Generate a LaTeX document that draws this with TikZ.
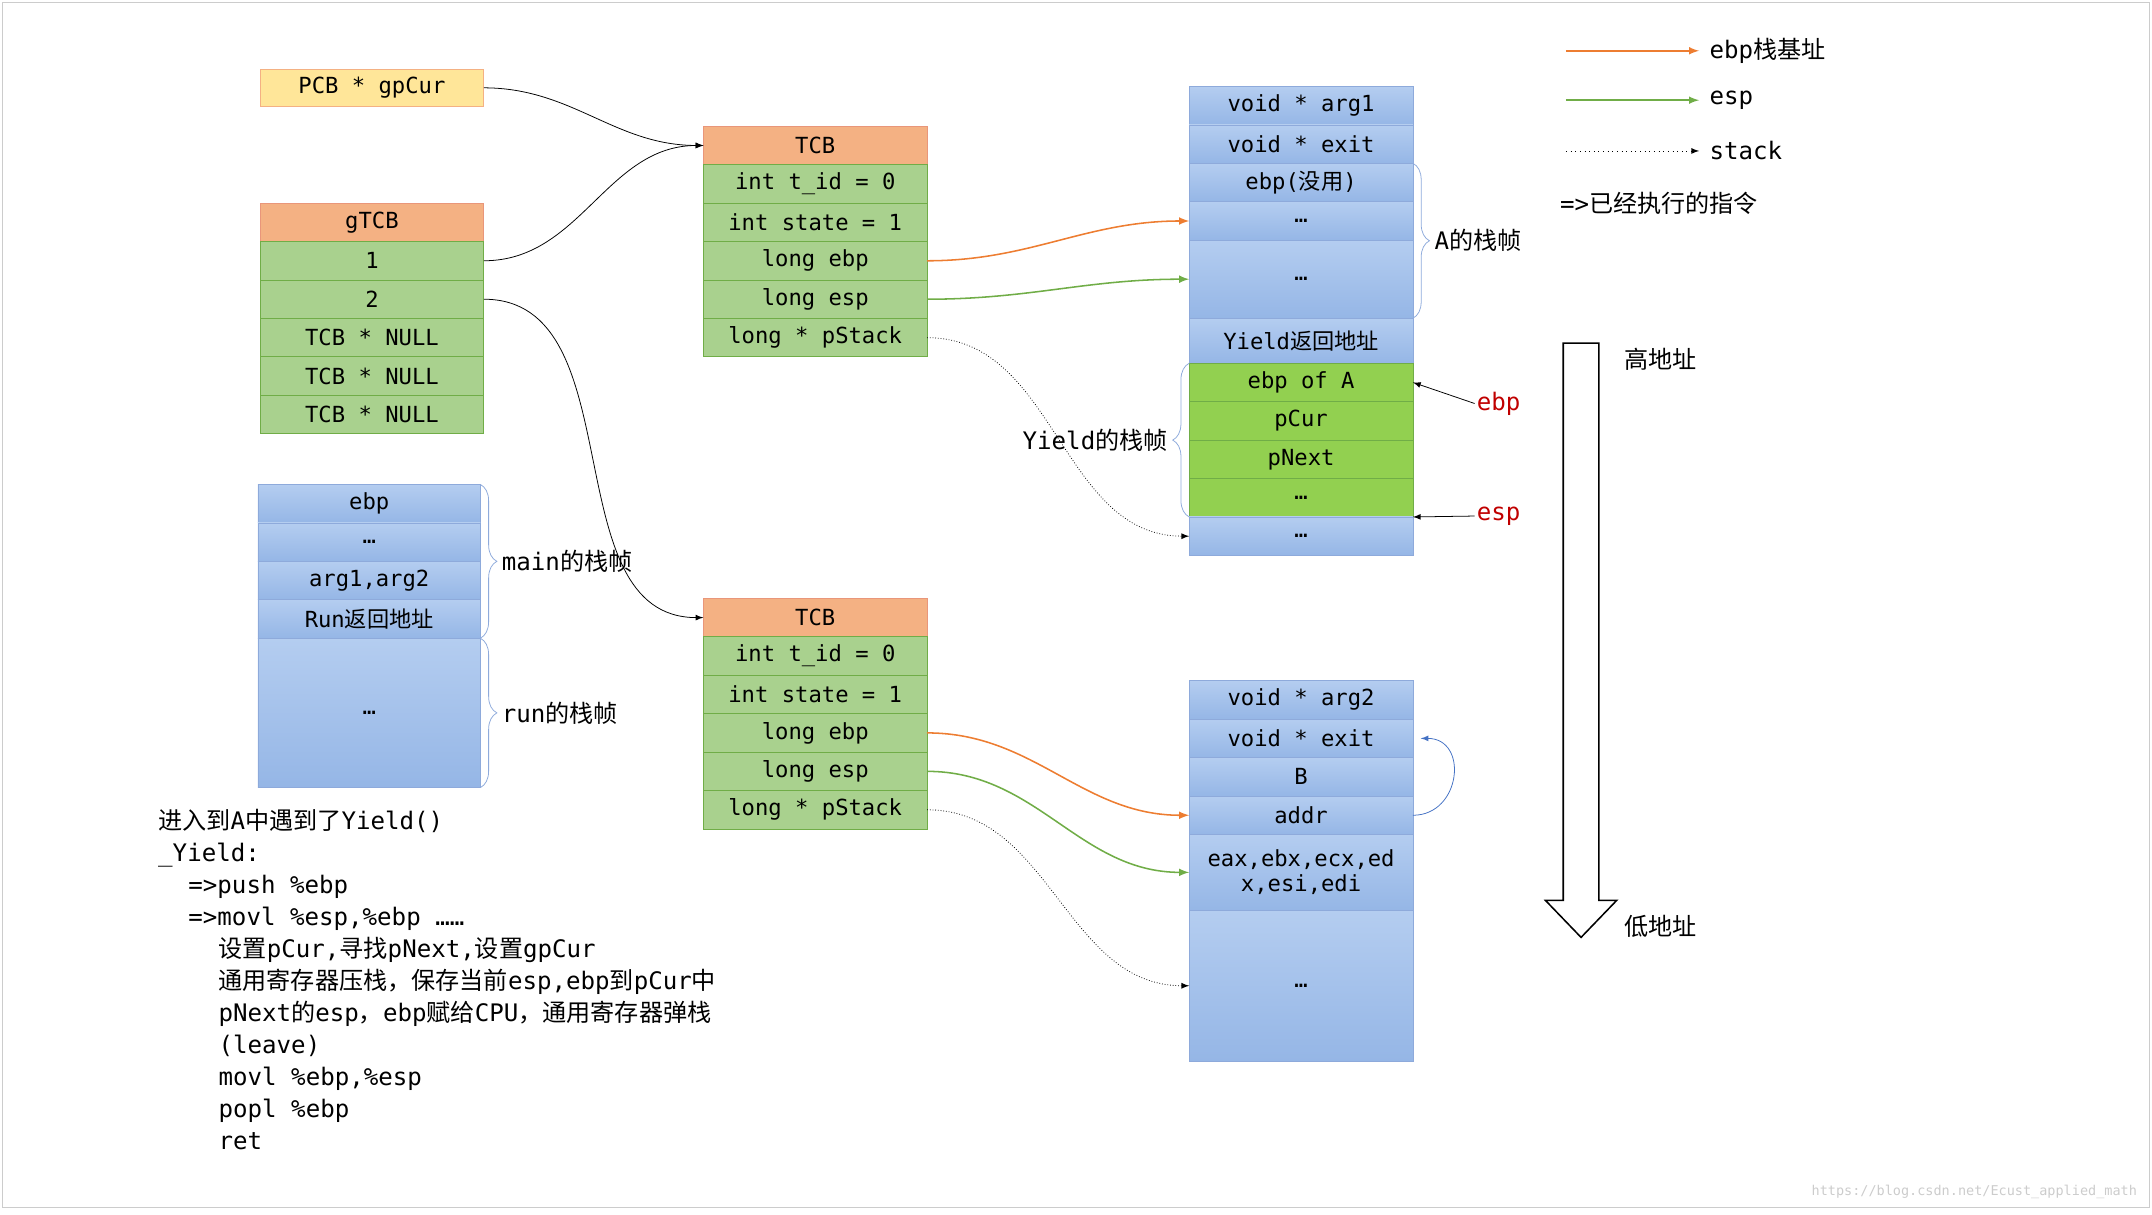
\documentclass[tikz,border=0pt]{standalone}
\usepackage{fontspec}
\setmainfont{DejaVu Sans Mono}
\newfontfamily\cjk{Noto Sans CJK SC}
\usetikzlibrary{positioning,decorations.pathreplacing}
\definecolor{hdrfill}{HTML}{F4B183}
\definecolor{hdrdraw}{HTML}{E9967A}
\definecolor{grnfill}{HTML}{A9D18E}
\definecolor{grndraw}{HTML}{70AD47}
\definecolor{limefill}{HTML}{92D050}
\definecolor{bluetop}{HTML}{B4CDF0}
\definecolor{bluebot}{HTML}{95B6E6}
\definecolor{bluedraw}{HTML}{8EAADB}
\definecolor{yelfill}{HTML}{FFE699}
\definecolor{ebpcol}{HTML}{ED7D31}
\definecolor{espcol}{HTML}{70AD47}
\definecolor{loopcol}{HTML}{4472C4}
\definecolor{regred}{HTML}{C00000}
\tikzset{
  cell/.style={minimum width=4.075cm,minimum height=0.7cm,inner sep=0pt,outer sep=0pt,
    font=\fontsize{11.5}{13}\selectfont},
  hdr/.style={cell,fill=hdrfill,draw=hdrdraw},
  grn/.style={cell,fill=grnfill,draw=grndraw},
  lime/.style={cell,fill=limefill,draw=grndraw},
  blu/.style={cell,top color=bluetop,bottom color=bluebot,draw=bluedraw},
  lbl/.style={font=\fontsize{12.5}{14}\selectfont,inner sep=1pt},
  brc/.style={decorate,decoration={brace,amplitude=0.3cm},draw=bluedraw},
}
\begin{document}
\begin{tikzpicture}[x=0.025cm,y=-0.025cm]
\useasboundingbox (0,0) rectangle (1568,885);
\draw[gray!40] (2,2) rectangle (1566,880);

% left side
\node[cell,fill=yelfill,draw=hdrfill,minimum height=0.68cm] (gp) at (271,64) {PCB * gpCur};

\node[hdr] (g0) at (271,162) {gTCB};
\node[grn] (g1) [below=0pt of g0] {1};
\node[grn] (g2) [below=0pt of g1] {2};
\node[grn] (g3) [below=0pt of g2] {TCB * NULL};
\node[grn] (g4) [below=0pt of g3] {TCB * NULL};
\node[grn] (g5) [below=0pt of g4] {TCB * NULL};

\node[blu,minimum width=4.05cm] (m1) at (269,367) {ebp};
\node[blu,minimum width=4.05cm] (m2) [below=0pt of m1] {…};
\node[blu,minimum width=4.05cm] (m3) [below=0pt of m2] {arg1,arg2};
\node[blu,minimum width=4.05cm] (m4) [below=0pt of m3] {Run{\cjk 返回地址}};
\node[blu,minimum width=4.05cm,minimum height=2.72cm] (m5) [below=0pt of m4] {…};

% thread A
\node[hdr] (ta0) at (594,106) {TCB};
\node[grn] (ta1) [below=0pt of ta0] {int t\_id = 0};
\node[grn] (ta2) [below=0pt of ta1] {int state = 1};
\node[grn] (ta3) [below=0pt of ta2] {long ebp};
\node[grn] (ta4) [below=0pt of ta3] {long esp};
\node[grn] (ta5) [below=0pt of ta4] {long * pStack};

% thread B
\node[hdr] (tb0) at (594,450) {TCB};
\node[grn] (tb1) [below=0pt of tb0] {int t\_id = 0};
\node[grn] (tb2) [below=0pt of tb1] {int state = 1};
\node[grn] (tb3) [below=0pt of tb2] {long ebp};
\node[grn] (tb4) [below=0pt of tb3] {long esp};
\node[grn] (tb5) [below=0pt of tb4] {long * pStack};

% stack A
\node[blu] (sa1) at (948,77) {void * arg1};
\node[blu] (sa2) [below=0pt of sa1] {void * exit};
\node[blu] (sa3) [below=0pt of sa2] {ebp({\cjk 没用})};
\node[blu] (sa4) [below=0pt of sa3] {…};
\node[blu,minimum height=1.42cm] (sa5) [below=0pt of sa4] {…};
\node[blu,minimum height=0.82cm] (sa6) [below=0pt of sa5] {Yield{\cjk 返回地址}};
\node[lime] (sa7) [below=0pt of sa6] {ebp of A};
\node[lime] (sa8) [below=0pt of sa7] {pCur};
\node[lime] (sa9) [below=0pt of sa8] {pNext};
\node[lime] (sa10) [below=0pt of sa9] {…};
\node[blu] (sa11) [below=0pt of sa10] {…};

% stack B
\node[blu] (sb1) at (948,510) {void * arg2};
\node[blu] (sb2) [below=0pt of sb1] {void * exit};
\node[blu] (sb3) [below=0pt of sb2] {B};
\node[blu] (sb4) [below=0pt of sb3] {addr};
\node[blu,minimum height=1.38cm,align=center] (sb5) [below=0pt of sb4] {eax,ebx,ecx,ed\\x,esi,edi};
\node[blu,minimum height=2.75cm] (sb6) [below=0pt of sb5] {…};

% pointers
\draw[-latex] (gp.east) to[out=0,in=180] (ta0.west);
\draw[-latex] (g1.east) to[out=0,in=180] (ta0.west);
\draw[-latex] (g2.east) to[out=0,in=180] (tb0.west);
\draw[-latex,ebpcol,thick] (ta3.east) to[out=0,in=180] (sa4.west);
\draw[-latex,espcol,thick] (ta4.east) to[out=0,in=180] (sa5.west);
\draw[-latex,densely dotted] (ta5.east) to[out=0,in=180] (sa11.west);
\draw[-latex,ebpcol,thick] (tb3.east) to[out=0,in=180] (sb4.west);
\draw[-latex,espcol,thick] (tb4.east) to[out=0,in=180] (sb5.west);
\draw[-latex,densely dotted] (tb5.east) to[out=0,in=180] (sb6.west);
\draw[-latex,loopcol] (sb4.east) to[out=0,in=0,looseness=1.6] ([xshift=4]sb2.east);

% braces
\draw[brc] (m1.north east) -- (m4.south east) node[midway,right=0.35cm,lbl] (mainlbl) {main{\cjk 的栈帧}};
\draw[brc] (m5.north east) -- (m5.south east) node[midway,right=0.35cm,lbl] (runlbl) {run{\cjk 的栈帧}};
\draw[brc] (sa3.north east) -- (sa5.south east) node[midway,right=0.35cm,lbl] (albl) {A{\cjk 的栈帧}};
\draw[brc] (sa10.south west) -- (sa7.north west) node[midway,left=0.35cm,lbl] (ylbl) {Yield{\cjk 的栈帧}};

% registers
\node[lbl,text=regred] (ebpr) at (1092,294) {ebp};
\node[lbl,text=regred] (espr) at (1092,376) {esp};
\draw[-latex] (ebpr.west) -- (sa7.east);
\draw[-latex] (espr.west) -- (sa10.south east);

% legend
\coordinate (l1) at (1141,37); \coordinate (l1e) at (1238,37);
\coordinate (l2) at (1141,73); \coordinate (l2e) at (1238,73);
\coordinate (l3) at (1141,110); \coordinate (l3e) at (1238,110);
\draw[-latex,ebpcol,thick] (l1) -- (l1e);
\draw[-latex,espcol,thick] (l2) -- (l2e);
\draw[-latex,dotted] (l3) -- (l3e);
\node[lbl,anchor=west] (k1) at (1244,37) {ebp{\cjk 栈基址}};
\node[lbl,anchor=west] (k2) at (1244,73) {esp};
\node[lbl,anchor=west] (k3) at (1244,110) {stack};
\node[lbl,anchor=west] (k4) at (1135,148) {=>{\cjk 已经执行的指令}};

% address direction
\draw[thick,fill=white] (1139,250) -- (1165,250) -- (1165,656) -- (1178,656)
  -- (1152,683) -- (1126,656) -- (1139,656) -- cycle;
\node[lbl,anchor=west] (hi) at (1182,262) {\cjk 高地址};
\node[lbl,anchor=west] (lo) at (1182,675) {\cjk 低地址};

% code
\node[anchor=north west,align=left,inner sep=0pt,font=\fontsize{12.5}{16.6}\selectfont] (code) at (115,589) {%
{\cjk 进入到}A{\cjk 中遇到了}Yield()\\
\_Yield:\\
\hspace*{0.55cm}=>push \%ebp\\
\hspace*{0.55cm}=>movl \%esp,\%ebp ……\\
\hspace*{1.1cm}{\cjk 设置}pCur,{\cjk 寻找}pNext,{\cjk 设置}gpCur\\
\hspace*{1.1cm}{\cjk 通用寄存器压栈，保存当前}esp,ebp{\cjk 到}pCur{\cjk 中}\\
\hspace*{1.1cm}pNext{\cjk 的}esp{\cjk ，}ebp{\cjk 赋给}CPU{\cjk ，通用寄存器弹栈}\\
\hspace*{1.1cm}(leave)\\
\hspace*{1.1cm}movl \%ebp,\%esp\\
\hspace*{1.1cm}popl \%ebp\\
\hspace*{1.1cm}ret};

\node[anchor=south east,text=gray!40,font=\fontsize{7}{8}\selectfont] (wm) at (1562,878) {https://blog.csdn.net/Ecust\_applied\_math};
\end{tikzpicture}
\end{document}
